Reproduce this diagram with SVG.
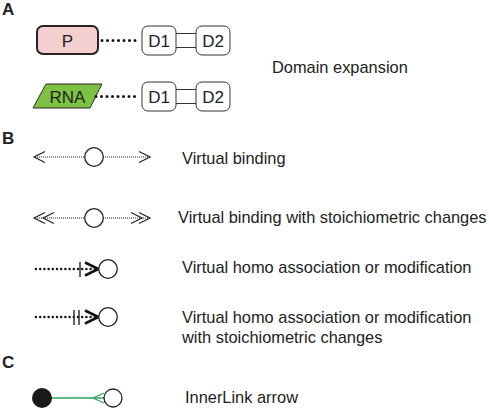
<svg xmlns="http://www.w3.org/2000/svg" width="489" height="409" viewBox="0 0 489 409">
<style>
text{font-family:"Liberation Sans",Arial,sans-serif;fill:#222}
.lbl{font-size:16.4px}
.nl{font-size:17px}
.sec{font-size:17px;font-weight:bold}
.box{fill:#fff;stroke:#333;stroke-width:1}
.dom{fill:none;stroke:#333;stroke-width:1}
.dotbig{stroke:#111;stroke-width:3;stroke-linecap:round;stroke-dasharray:0 5.5;fill:none}
.dotfine{stroke:#222;stroke-width:1.1;stroke-dasharray:1 1;fill:none}
.dotmed{stroke:#111;stroke-width:2.5;stroke-linecap:round;stroke-dasharray:0 4.2;fill:none}
.chev{fill:none;stroke:#222;stroke-width:1.2}
.chevb{fill:none;stroke:#111;stroke-width:2.5}
.circ{fill:#fff;stroke:#222;stroke-width:1.3}
.bar{stroke:#222;stroke-width:1.4}
</style>
<g id="labels">
<text class="sec" x="2" y="15">A</text>
<text class="sec" x="2" y="144">B</text>
<text class="sec" x="2" y="368">C</text>
</g>
<g id="node-P">
<rect x="37" y="26" width="61" height="28" rx="6" fill="#f4cfcf" stroke="#2a2020" stroke-width="2"/>
<text class="nl" x="67.5" y="46.5" text-anchor="middle">P</text>
</g>
<g id="node-RNA">
<polygon points="46,84 102,84 90,108 33,108" fill="#7dc242" stroke="#2a2a2a" stroke-width="1"/>
<text class="nl" x="67.5" y="102.5" text-anchor="middle">RNA</text>
</g>
<g id="node-D1a"><rect class="box" x="142" y="26" width="34" height="29" rx="6"/><text class="nl" x="159" y="46.5" text-anchor="middle">D1</text></g>
<g id="node-D2a"><rect class="box" x="196" y="26" width="34" height="29" rx="6"/><text class="nl" x="213" y="46.5" text-anchor="middle">D2</text></g>
<g id="node-D1b"><rect class="box" x="142" y="82" width="34" height="29" rx="6"/><text class="nl" x="159" y="102.5" text-anchor="middle">D1</text></g>
<g id="node-D2b"><rect class="box" x="196" y="82" width="34" height="29" rx="6"/><text class="nl" x="213" y="102.5" text-anchor="middle">D2</text></g>
<g id="connectors">
<line class="dotbig" x1="102" y1="40.5" x2="140" y2="40.5"/>
<line class="dotbig" x1="96" y1="96.5" x2="140" y2="96.5"/>
<path class="dom" d="M176 33.5H196M176 47.5H196M176 89.5H196M176 103.5H196"/>
<line class="dotfine" x1="35" y1="157" x2="85" y2="157"/>
<line class="dotfine" x1="103" y1="157" x2="149" y2="157"/>
<path class="chev" d="M45 151.5L34 157L45 162.5M139 151.5L150 157L139 162.5"/>
<circle class="circ" cx="94" cy="157" r="9.3"/>
<line class="dotfine" x1="35" y1="218" x2="85" y2="218"/>
<line class="dotfine" x1="103" y1="218" x2="149" y2="218"/>
<path class="chev" d="M45 212.5L34 218L45 223.5M54 212.5L43 218L54 223.5M131 212.5L142 218L131 223.5M139 212.5L150 218L139 223.5"/>
<circle class="circ" cx="94" cy="218" r="9.3"/>
<line class="dotmed" x1="36" y1="269" x2="97" y2="269"/>
<line class="bar" x1="80" y1="262" x2="80" y2="277"/>
<path class="chevb" d="M85 262.5L98.5 269L85 275.5"/>
<circle class="circ" cx="108" cy="269" r="9.3"/>
<line class="dotmed" x1="36" y1="317" x2="97" y2="317"/>
<line class="bar" x1="74" y1="310" x2="74" y2="325"/>
<line class="bar" x1="79" y1="310" x2="79" y2="325"/>
<path class="chevb" d="M85 310.5L98.5 317L85 323.5"/>
<circle class="circ" cx="108" cy="317" r="9.3"/>
<line x1="50" y1="398" x2="104" y2="398" stroke="#2aa760" stroke-width="1.5"/>
<path d="M104 393L93 398L104 403" fill="none" stroke="#2aa760" stroke-width="1.2"/>
<circle cx="42" cy="398" r="10" fill="#1a1a1a"/>
<circle class="circ" cx="113" cy="398" r="9"/>
</g>
<g id="texts">
<text class="lbl" x="272" y="73">Domain expansion</text>
<text class="lbl" x="182" y="164">Virtual binding</text>
<text class="lbl" x="178" y="223">Virtual binding with stoichiometric changes</text>
<text class="lbl" x="182" y="273">Virtual homo association or modification</text>
<text class="lbl" x="182" y="323">Virtual homo association or modification</text>
<text class="lbl" x="182" y="343">with stoichiometric changes</text>
<text class="lbl" x="185" y="403">InnerLink arrow</text>
</g>
</svg>
